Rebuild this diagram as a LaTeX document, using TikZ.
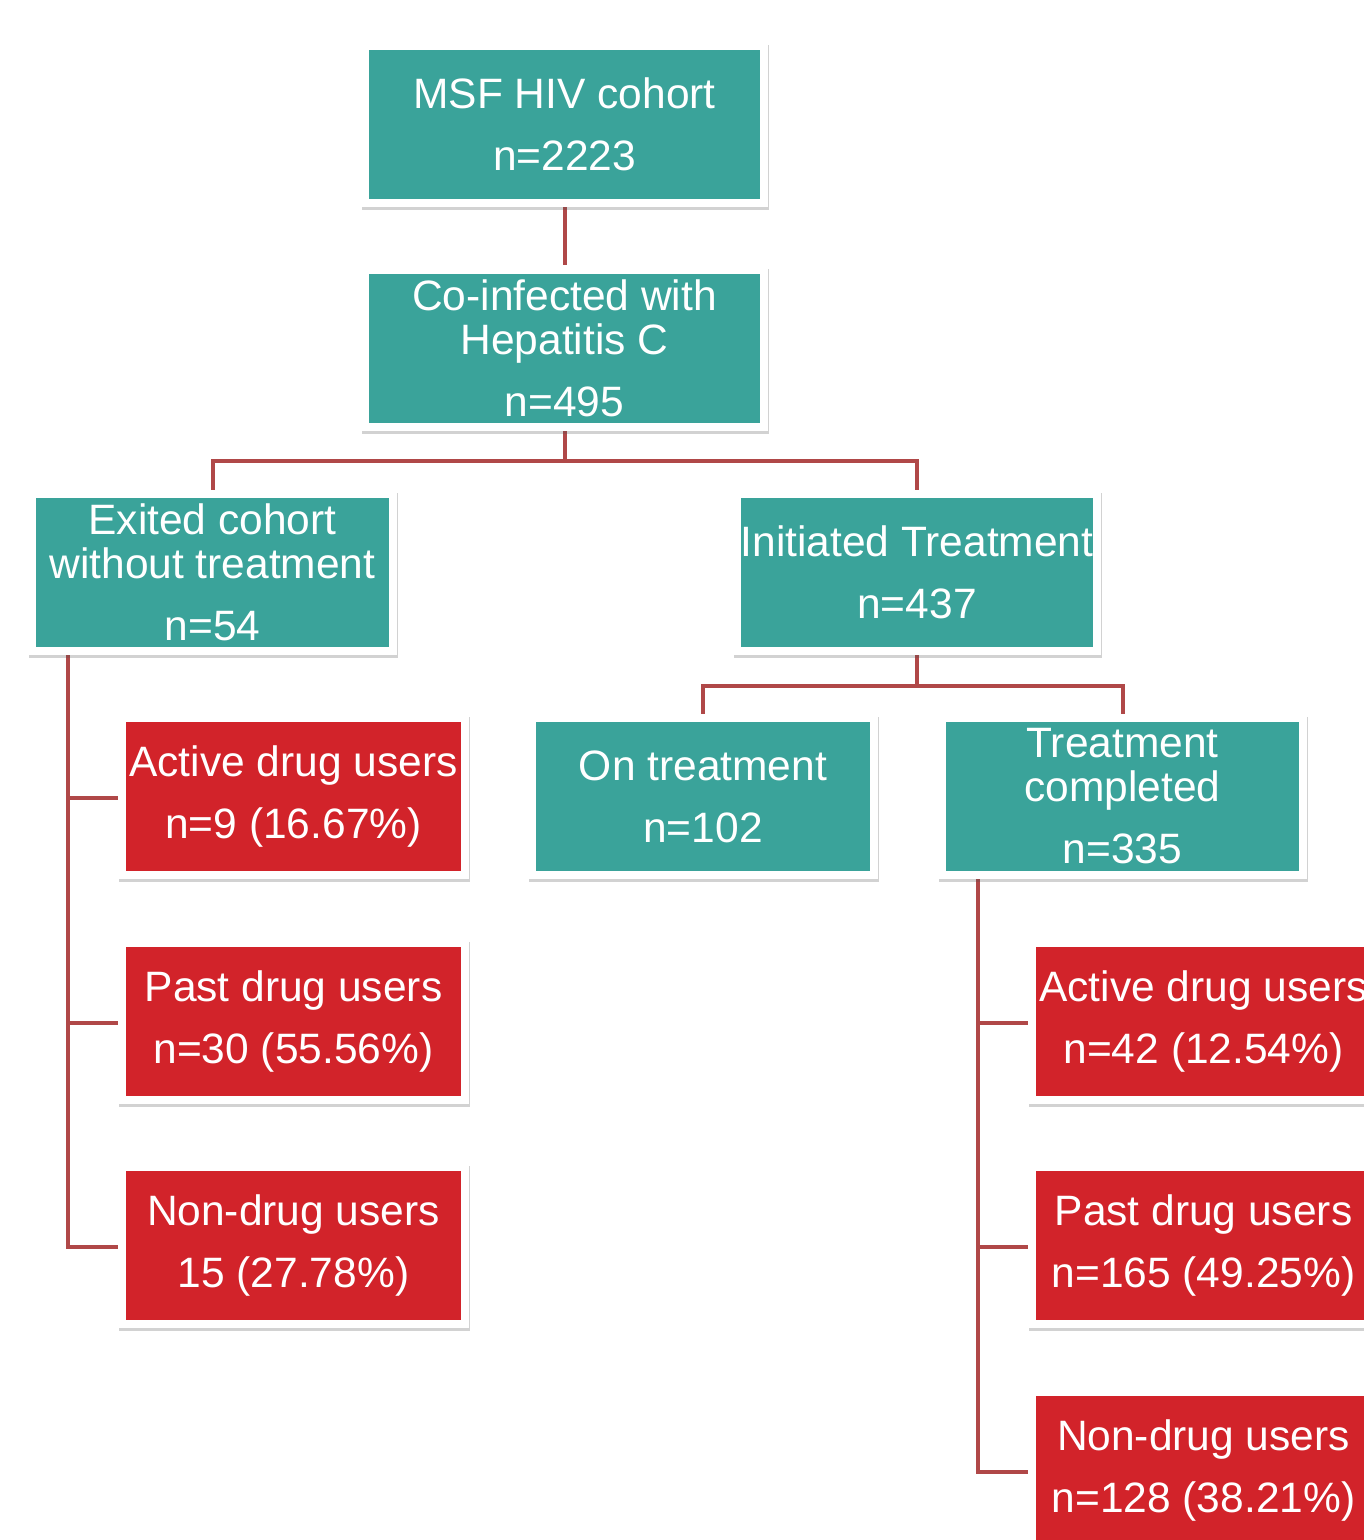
\documentclass[tikz,border=0pt]{standalone}
\usepackage{fontspec}
\setmainfont{Liberation Sans}
\usetikzlibrary{shadows,backgrounds,calc}
\definecolor{tealbox}{RGB}{58,163,154}
\definecolor{redbox}{RGB}{210,35,42}
\definecolor{linkred}{RGB}{176,72,72}
\tikzset{
  box/.style={rectangle, inner sep=0pt, fill=white, text=white,
    align=center, font=\fontsize{42.5}{44}\selectfont,
    minimum height=165pt,
    drop shadow={shadow xshift=1pt, shadow yshift=-3pt, opacity=0.25, fill=black!70},
    path picture={\fill[#1] ($(path picture bounding box.south west)+(8,-8)$) rectangle ($(path picture bounding box.north east)+(-8,8)$);}},
  tealnode/.style={box=tealbox},
  rednode/.style={box=redbox, minimum width=351pt},
  link/.style={draw=linkred, line width=4pt}
}
\begin{document}
\begin{tikzpicture}[x=1pt,y=-1pt]
\useasboundingbox (0,0) rectangle (1364,1540);
\clip (0,0) rectangle (1364,1540);
\node[tealnode, minimum width=407pt] (msf) at (564.5,124) {MSF HIV cohort\\[18pt]n=2223};
\node[tealnode, minimum width=407pt] (coinf) at (564.5,348) {Co-infected with\\Hepatitis C\\[18pt]n=495};
\node[tealnode, minimum width=369pt] (exit) at (212.5,572.5) {Exited cohort\\without treatment\\[18pt]n=54};
\node[tealnode, minimum width=368pt] (init) at (917,572.5) {Initiated Treatment\\[18pt]n=437};
\node[tealnode, minimum width=350pt] (ont) at (703,796.5) {On treatment\\[18pt]n=102};
\node[tealnode, minimum width=369pt] (tc) at (1122.5,796.5) {Treatment\\completed\\[18pt]n=335};
\node[rednode] (la) at (293.5,796.5) {Active drug users\\[18pt]n=9 (16.67\%)};
\node[rednode] (lp) at (293.5,1021) {Past drug users\\[18pt]n=30 (55.56\%)};
\node[rednode] (ln) at (293.5,1245.5) {Non-drug users\\[18pt]15 (27.78\%)};
\node[rednode] (ra) at (1203.5,1021) {Active drug users\\[18pt]n=42 (12.54\%)};
\node[rednode] (rp) at (1203.5,1245.5) {Past drug users\\[18pt]n=165 (49.25\%)};
\node[rednode] (rn) at (1203.5,1470) {Non-drug users\\[18pt]n=128 (38.21\%)};
\coordinate (bus1) at (564.5,461);
\coordinate (bus2) at (917,686);
\coordinate (exl) at ($(exit.south west)+(40,0)$);
\coordinate (tcl) at ($(tc.south west)+(40,0)$);
\begin{scope}[on background layer]
\fill[white] (0,0) rectangle (1364,1540);
\draw[link] (msf.south) -- (coinf.north);
\draw[link] (coinf.south) -- (bus1);
\draw[link] (exit.north) |- (bus1) -| (init.north);
\draw[link] (init.south) -- (bus2);
\draw[link] (ont.north) |- (bus2) -| (tc.north);
\draw[link] (exl) |- ($(ln.west)+(0,1.5)$);
\draw[link] ($(la.west)+(0,1.5)$) -- ($(la.west -| exl)+(0,1.5)$);
\draw[link] ($(lp.west)+(0,1.5)$) -- ($(lp.west -| exl)+(0,1.5)$);
\draw[link] (tcl) |- ($(rn.west)+(0,1.5)$);
\draw[link] ($(ra.west)+(0,1.5)$) -- ($(ra.west -| tcl)+(0,1.5)$);
\draw[link] ($(rp.west)+(0,1.5)$) -- ($(rp.west -| tcl)+(0,1.5)$);
\end{scope}
\end{tikzpicture}
\end{document}
